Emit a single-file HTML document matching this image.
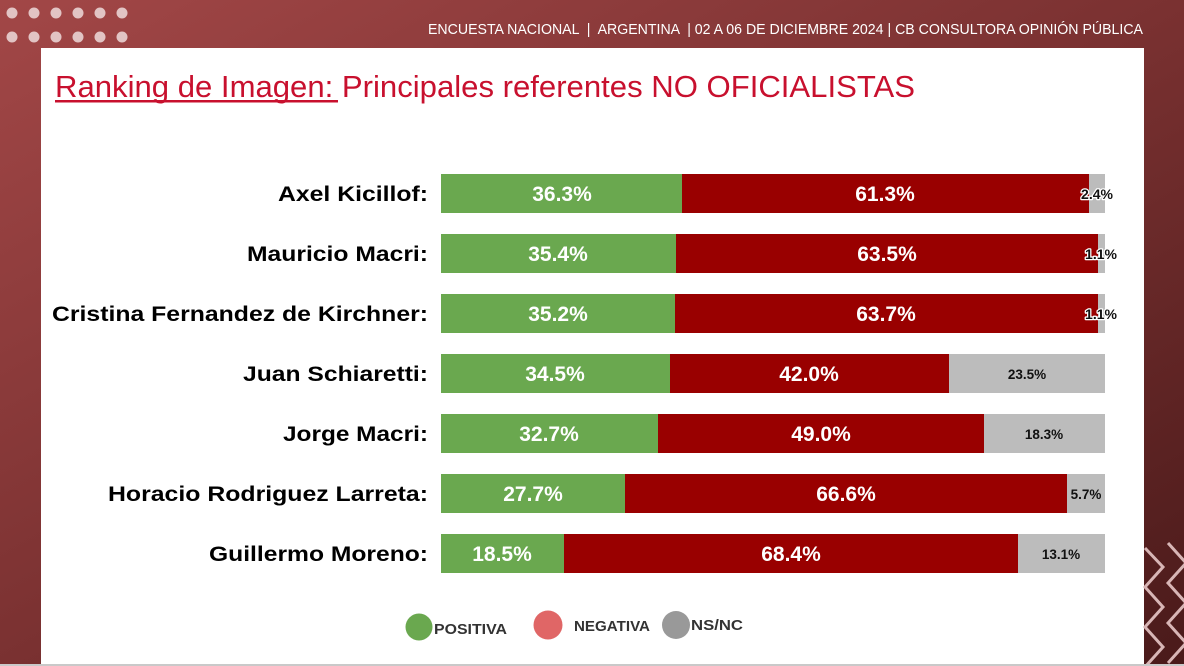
<!DOCTYPE html>
<html><head><meta charset="utf-8">
<style>
html,body{margin:0;padding:0;}
body{width:1184px;height:666px;overflow:hidden;background:linear-gradient(to bottom right,#a24747 0%,#7a3131 50%,#4a1a1a 100%);}
svg{display:block;}
text{white-space:pre;}
</style></head>
<body>
<svg width="1184" height="666" viewBox="0 0 1184 666" xmlns="http://www.w3.org/2000/svg">
  <g fill="#e2c4c4">
    <circle cx="12" cy="13" r="5.5"/><circle cx="34" cy="13" r="5.5"/><circle cx="56" cy="13" r="5.5"/><circle cx="78" cy="13" r="5.5"/><circle cx="100" cy="13" r="5.5"/><circle cx="122" cy="13" r="5.5"/>
    <circle cx="12" cy="37" r="5.5"/><circle cx="34" cy="37" r="5.5"/><circle cx="56" cy="37" r="5.5"/><circle cx="78" cy="37" r="5.5"/><circle cx="100" cy="37" r="5.5"/><circle cx="122" cy="37" r="5.5"/>
  </g>
  <text x="428" y="34" font-family="Liberation Sans, sans-serif" font-size="15" fill="#ffffff" textLength="715" lengthAdjust="spacingAndGlyphs" xml:space="preserve">ENCUESTA NACIONAL  |  ARGENTINA  | 02 A 06 DE DICIEMBRE 2024 | CB CONSULTORA OPINIÓN PÚBLICA</text>
  <rect x="41" y="48" width="1103" height="617" fill="#ffffff"/>
  <g fill="none" stroke="#d8b6b6" stroke-width="3" stroke-linejoin="miter">
    <polyline points="1145,548 1163,567 1145,587 1163,607 1145,627 1163,647 1145,667"/>
    <polyline points="1168,543 1186,563 1168,583 1186,603 1168,623 1186,643 1168,663"/>
  </g>
  <rect x="0" y="664" width="1184" height="2" fill="#c9c9c9"/>
  <text x="55" y="97" font-family="Liberation Sans, sans-serif" font-size="31" fill="#c8102e" textLength="860" lengthAdjust="spacingAndGlyphs">Ranking de Imagen: Principales referentes NO OFICIALISTAS</text>
  <rect x="55" y="100" width="283" height="2.5" fill="#c8102e"/>

  <g font-family="Liberation Sans, sans-serif" font-size="21.5" font-weight="bold" fill="#000" text-anchor="end">
    <text x="428" y="201" textLength="150" lengthAdjust="spacingAndGlyphs">Axel Kicillof:</text>
    <text x="428" y="261" textLength="181" lengthAdjust="spacingAndGlyphs">Mauricio Macri:</text>
    <text x="428" y="321" textLength="376" lengthAdjust="spacingAndGlyphs">Cristina Fernandez de Kirchner:</text>
    <text x="428" y="381" textLength="185" lengthAdjust="spacingAndGlyphs">Juan Schiaretti:</text>
    <text x="428" y="441" textLength="145" lengthAdjust="spacingAndGlyphs">Jorge Macri:</text>
    <text x="428" y="501" textLength="320" lengthAdjust="spacingAndGlyphs">Horacio Rodriguez Larreta:</text>
    <text x="428" y="561" textLength="219" lengthAdjust="spacingAndGlyphs">Guillermo Moreno:</text>
  </g>

  <g>
    <rect x="441" y="174" width="241" height="39" fill="#6aa84f"/>
    <rect x="682" y="174" width="407" height="39" fill="#990000"/>
    <rect x="1089" y="174" width="16" height="39" fill="#bcbcbc"/>
    <rect x="441" y="234" width="235" height="39" fill="#6aa84f"/>
    <rect x="676" y="234" width="422" height="39" fill="#990000"/>
    <rect x="1098" y="234" width="7" height="39" fill="#bcbcbc"/>
    <rect x="441" y="294" width="234" height="39" fill="#6aa84f"/>
    <rect x="675" y="294" width="423" height="39" fill="#990000"/>
    <rect x="1098" y="294" width="7" height="39" fill="#bcbcbc"/>
    <rect x="441" y="354" width="229" height="39" fill="#6aa84f"/>
    <rect x="670" y="354" width="279" height="39" fill="#990000"/>
    <rect x="949" y="354" width="156" height="39" fill="#bcbcbc"/>
    <rect x="441" y="414" width="217" height="39" fill="#6aa84f"/>
    <rect x="658" y="414" width="326" height="39" fill="#990000"/>
    <rect x="984" y="414" width="121" height="39" fill="#bcbcbc"/>
    <rect x="441" y="474" width="184" height="39" fill="#6aa84f"/>
    <rect x="625" y="474" width="442" height="39" fill="#990000"/>
    <rect x="1067" y="474" width="38" height="39" fill="#bcbcbc"/>
    <rect x="441" y="534" width="123" height="39" fill="#6aa84f"/>
    <rect x="564" y="534" width="454" height="39" fill="#990000"/>
    <rect x="1018" y="534" width="87" height="39" fill="#bcbcbc"/>
  </g>

  <g font-family="Liberation Sans, sans-serif" font-size="21" font-weight="bold" fill="#ffffff" text-anchor="middle">
    <text x="562" y="201">36.3%</text>
    <text x="885" y="201">61.3%</text>
    <text x="558" y="261">35.4%</text>
    <text x="887" y="261">63.5%</text>
    <text x="558" y="321">35.2%</text>
    <text x="886" y="321">63.7%</text>
    <text x="555" y="381">34.5%</text>
    <text x="809" y="381">42.0%</text>
    <text x="549" y="441">32.7%</text>
    <text x="821" y="441">49.0%</text>
    <text x="533" y="501">27.7%</text>
    <text x="846" y="501">66.6%</text>
    <text x="502" y="561">18.5%</text>
    <text x="791" y="561">68.4%</text>
  </g>
  <g font-family="Liberation Sans, sans-serif" font-size="13.5" font-weight="bold" fill="#111" text-anchor="middle">
    <text x="1027" y="379">23.5%</text>
    <text x="1044" y="439">18.3%</text>
    <text x="1086" y="499">5.7%</text>
    <text x="1061" y="559">13.1%</text>
  </g>
  <g font-family="Liberation Sans, sans-serif" font-size="14" font-weight="bold" fill="#111" text-anchor="middle" stroke="#ffffff" stroke-width="2.5" paint-order="stroke" stroke-linejoin="round">
    <text x="1097" y="199">2.4%</text>
    <text x="1101" y="259">1.1%</text>
    <text x="1101" y="319">1.1%</text>
  </g>

  <circle cx="419" cy="627" r="13.5" fill="#6aa84f"/>
  <circle cx="548" cy="625" r="14.5" fill="#e06666"/>
  <circle cx="676" cy="625" r="14" fill="#999999"/>
  <g font-family="Liberation Sans, sans-serif" font-size="14.5" font-weight="bold" fill="#333333">
    <text x="434" y="634" textLength="73" lengthAdjust="spacingAndGlyphs">POSITIVA</text>
    <text x="574" y="631" textLength="76" lengthAdjust="spacingAndGlyphs">NEGATIVA</text>
    <text x="691" y="630" textLength="52" lengthAdjust="spacingAndGlyphs">NS/NC</text>
  </g>
</svg>
</body></html>
